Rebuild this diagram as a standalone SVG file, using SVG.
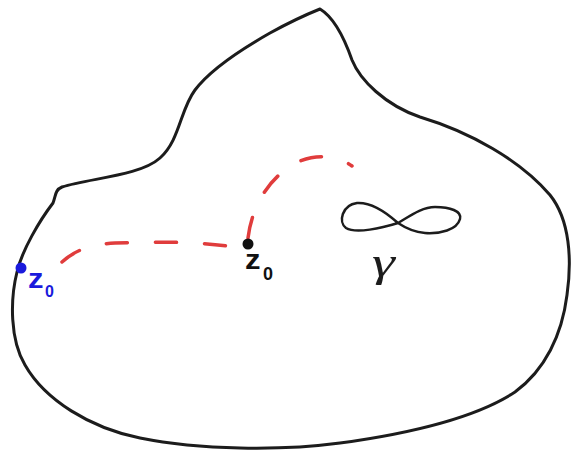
<svg xmlns="http://www.w3.org/2000/svg" width="571" height="452" viewBox="0 0 571 452">
<style>
.outline{fill:none;stroke:#1c1c1c;stroke-width:3;stroke-linejoin:round;stroke-linecap:round}
.path{fill:none;stroke:#e03c3c;stroke-width:3.5;stroke-dasharray:21 28;stroke-linecap:round}
.lbl{font-family:"Liberation Sans",Arial,sans-serif;font-weight:bold}
</style>
<rect width="571" height="452" fill="#ffffff"/>
<g id="region">
<path class="outline" d="M 320,9 C 335,18 345,40 352,60 C 360,80 385,105 420,117 C 470,132 520,160 550,195 C 570,220 572,260 567,295 C 562,335 545,370 515,392 C 480,415 420,432 340,443 C 280,451 200,450 140,438 C 90,428 45,400 25,365 C 10,340 10,300 17,272 C 22,250 40,220 53,203 C 56,195 55,190 62,187 C 90,178 140,176 160,158 C 180,140 180,110 195,90 C 210,70 240,50 270,33 C 290,22 305,15 320,9 Z"/>
</g>
<g id="connectors">
<path class="path" d="M 62,262 C 75,250 92,244 115,243 C 150,242 190,241 228,246"/>
<path class="path" d="M 248,238 C 252,205 270,175 300,161 C 320,153 340,157 352,166"/>
</g>
<g id="gamma">
<path fill="none" stroke="#1c1c1c" stroke-width="2.5" d="M 398,223 C 388,214 372,202 357,203 C 342,205 338,222 346,228 C 356,234 382,228 398,223 C 410,216 422,207 435,207 C 450,207 462,211 460,219 C 457,230 440,234 425,233 C 413,232 404,227 398,223 Z"/>
<text transform="translate(372,276) scale(1.45,1)" font-family="'Liberation Serif',serif" font-style="italic" font-size="40" fill="#1c1c1c">γ</text>
</g>
<g id="z0-blue">
<circle cx="21" cy="268" r="5.5" fill="#1a1adc"/>
<text class="lbl" transform="translate(28,288) scale(1.15,1)" font-size="27" fill="#1a1adc">z</text>
<text class="lbl" x="45" y="297" font-size="16" fill="#1a1adc">0</text>
</g>
<g id="z0-black">
<circle cx="248" cy="244" r="5.5" fill="#111"/>
<text class="lbl" transform="translate(245,269) scale(1.15,1)" font-size="27" fill="#111">z</text>
<text class="lbl" x="263" y="280" font-size="18" fill="#111">0</text>
</g>
</svg>
